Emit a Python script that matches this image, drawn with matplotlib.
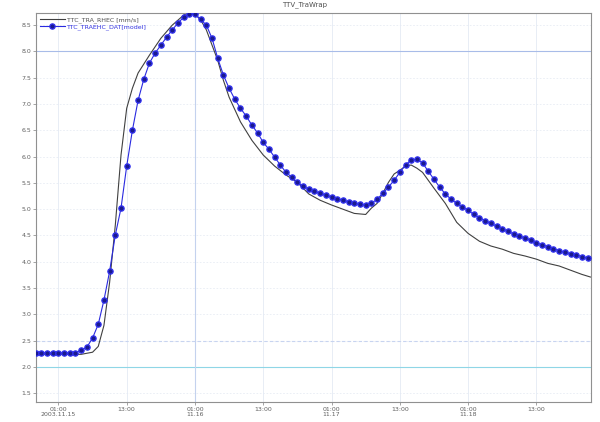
import matplotlib
matplotlib.use("Agg")
import matplotlib.pyplot as plt
import numpy as np

title = "TTV_TraWrap"
series_measured = "TTC_TRA_RHEC [mm/s]"
series_model = "TTC_TRAEHC_DAT[model]"

# hours relative to 01:00 2003.11.15
model_hours = list(range(-4, 94))
model_values = [2.27, 2.27, 2.27, 2.27, 2.27, 2.27, 2.27, 2.27,
                2.32, 2.375, 2.55, 2.81, 3.27, 3.82, 4.51, 5.02, 5.82, 6.50, 7.07, 7.47,
                7.78, 7.97, 8.12, 8.27, 8.41, 8.54, 8.65, 8.72, 8.71, 8.61, 8.50, 8.25,
                7.87, 7.55, 7.30, 7.09, 6.92, 6.77, 6.60, 6.45, 6.27, 6.14, 5.99, 5.84,
                5.70, 5.61, 5.51, 5.44, 5.38, 5.34, 5.30, 5.27, 5.23, 5.20, 5.17, 5.14,
                5.11, 5.09, 5.08, 5.11, 5.19, 5.30, 5.42, 5.55, 5.70, 5.84, 5.94, 5.95,
                5.88, 5.72, 5.57, 5.42, 5.29, 5.19, 5.11, 5.04, 4.98, 4.90, 4.84, 4.78,
                4.73, 4.68, 4.63, 4.58, 4.53, 4.49, 4.45, 4.41, 4.36, 4.32, 4.29, 4.25,
                4.21, 4.18, 4.15, 4.13, 4.10, 4.07]

measured_hours = [-4, 0, 4, 6, 7, 8, 9, 10, 11, 12, 13, 14, 16, 18, 20, 22, 23, 24, 25, 26,
                  27, 28, 29, 30, 32, 34, 36, 38, 40, 42, 44, 46, 48, 50, 52, 54, 55, 56,
                  57, 58, 59, 60, 61, 62, 63, 64, 66, 68, 70, 72, 74, 76, 78, 80, 82, 84,
                  86, 88, 90, 92, 93.5]
measured_values = [2.24, 2.24, 2.24, 2.28, 2.39, 2.79, 3.61, 4.70, 6.03, 6.92, 7.30, 7.59,
                   7.93, 8.25, 8.50, 8.69, 8.75, 8.71, 8.60, 8.41, 8.12, 7.83, 7.45, 7.13,
                   6.66, 6.31, 6.03, 5.82, 5.65, 5.51, 5.29, 5.17, 5.08, 5.00, 4.92, 4.90,
                   5.02, 5.11, 5.30, 5.51, 5.67, 5.74, 5.82, 5.84, 5.78, 5.70, 5.40, 5.11,
                   4.75, 4.54, 4.39, 4.30, 4.24, 4.16, 4.11, 4.05, 3.97, 3.92, 3.84, 3.76,
                   3.71]

x_ticks = [0, 12, 24, 36, 48, 60, 72, 84]
x_ticklabels = ["01:00\n2003.11.15", "13:00", "01:00\n11.16", "13:00",
                "01:00\n11.17", "13:00", "01:00\n11.18", "13:00"]
y_ticks = [1.5, 2.0, 2.5, 3.0, 3.5, 4.0, 4.5, 5.0, 5.5, 6.0, 6.5, 7.0, 7.5, 8.0, 8.5]

fig = plt.figure(figsize=(6.0, 4.22), dpi=100)
ax = fig.add_axes([0.06, 0.047, 0.925, 0.922])

ax.set_xlim(-3.94, 93.6)
ax.set_ylim(1.33, 8.73)

# grid
for yv in y_ticks:
    ax.axhline(yv, color="#e8ecf4", lw=0.6, ls=(0, (2, 2)), zorder=0)
for xv in x_ticks:
    ax.axvline(xv, color="#e4eaf4", lw=0.6, zorder=0)
ax.axhline(8.0, color="#a8bce8", lw=0.8, zorder=0)
ax.axhline(2.5, color="#c8d4f0", lw=0.8, ls=(0, (3, 2)), zorder=0)
ax.axhline(2.0, color="#8fd6e6", lw=0.8, zorder=0)
ax.axvline(24, color="#c4d2ee", lw=0.8, zorder=0)

ax.plot(measured_hours, measured_values, color="#404040", lw=0.8, zorder=2,
        label=series_measured)
ax.plot(model_hours, model_values, color="#2a2ae0", lw=0.8, marker="o", ms=3.8,
        markerfacecolor="#1a1a90", markeredgecolor="#3030f0", markeredgewidth=0.9,
        zorder=3, label=series_model)

ax.set_xticks(x_ticks)
ax.set_xticklabels(x_ticklabels, fontsize=4.5, color="#606060", linespacing=1.1)
ax.set_yticks(y_ticks)
ax.set_yticklabels([f"{v:.1f}" for v in y_ticks], fontsize=4.5, color="#606060")
ax.tick_params(axis="both", length=2, width=0.5, colors="#808080", pad=1.5)
for lbl in ax.get_xticklabels() + ax.get_yticklabels():
    lbl.set_color("#606060")

for sp in ax.spines.values():
    sp.set_color("#909090")
    sp.set_linewidth(0.8)

leg = ax.legend(loc="upper left", fontsize=4.5, frameon=False, handlelength=4,
                borderaxespad=0.2, labelspacing=0.1, handletextpad=0.4)
for t, c in zip(leg.get_texts(), ["#505050", "#3030e0"]):
    t.set_color(c)

fig.text(0.508, 0.988, title, fontsize=5, color="#505050", ha="center", va="center")

fig.savefig("out.png", dpi=100)
